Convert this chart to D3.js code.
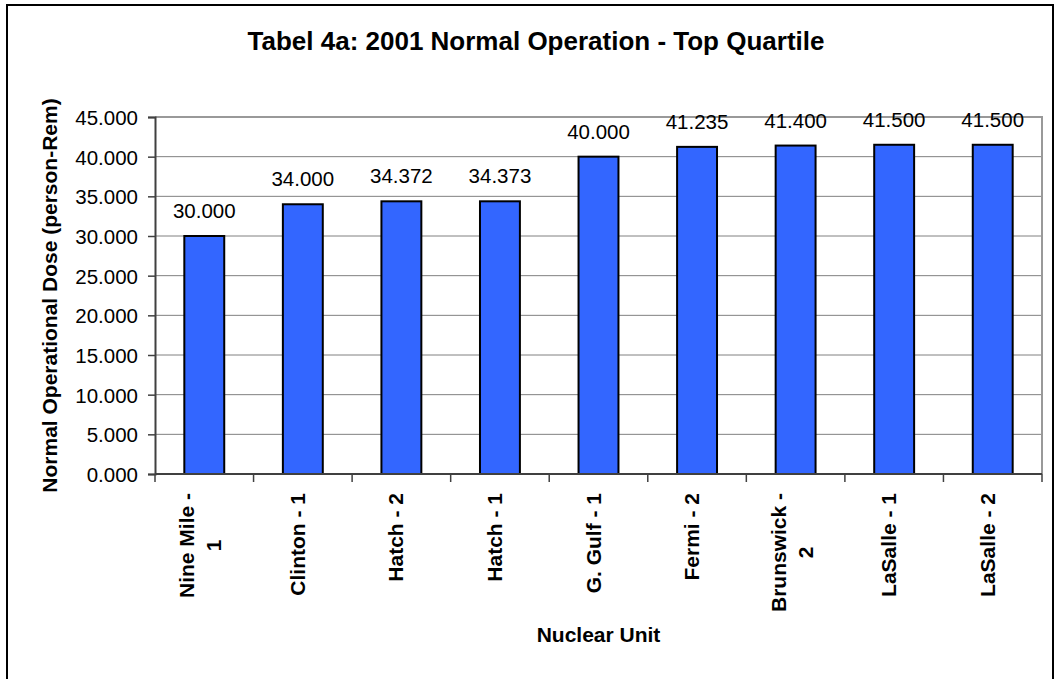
<!DOCTYPE html>
<html lang="en">
<head>
  <meta charset="UTF-8" />
  <title>Tabel 4a: 2001 Normal Operation - Top Quartile</title>
  <script src="https://d3js.org/d3.v7.min.js"></script>
  <style>
    body { margin: 0; background: #fff; }
    svg { font-family: Arial, "Liberation Sans", sans-serif; display: block; }
    .bar { fill: #3366ff; stroke: #000; stroke-width: 2px; }
    .grid line { stroke: #808080; stroke-width: 1px; }
    .axis text { font-size: 20.5px; fill: #000; }
    .xlab { font-size: 21px; font-weight: bold; }
    .value { font-size: 20.5px; }
    .title { font-size: 26px; font-weight: bold; }
    .axis-title { font-size: 21px; font-weight: bold; }
  </style>
</head>
<body>
  <svg width="1060" height="679"></svg>

  <script>
    const units = [
      ["Nine Mile -", "1"], ["Clinton - 1"], ["Hatch - 2"], ["Hatch - 1"], ["G. Gulf - 1"],
      ["Fermi - 2"], ["Brunswick -", "2"], ["LaSalle - 1"], ["LaSalle - 2"]
    ];
    const doses = [30.000, 34.000, 34.372, 34.373, 40.000, 41.235, 41.400, 41.500, 41.500];
    const yTicks = [0, 5, 10, 15, 20, 25, 30, 35, 40, 45];

    const data = units.map((u, i) => ({ key: i, lines: u, value: doses[i] }));

    const plot = { left: 155, right: 1042, top: 117, bottom: 474 };

    const svg = d3.select("svg");

    // outer chart border
    svg.append("rect")
      .attr("x", 7).attr("y", 5)
      .attr("width", 1046).attr("height", 690)
      .attr("fill", "none").attr("stroke", "#000").attr("stroke-width", 2);

    const x = d3.scaleBand()
      .domain(data.map(d => d.key))
      .range([plot.left, plot.right])
      .paddingInner(0.595)
      .paddingOuter(0.2975);

    const step = (plot.right - plot.left) / data.length;

    const y = d3.scaleLinear()
      .domain([0, 45])
      .range([plot.bottom, plot.top]);

    // gridlines
    svg.append("g")
      .attr("class", "grid")
      .selectAll("line")
      .data(yTicks.slice(1, -1))
      .join("line")
      .attr("x1", plot.left).attr("x2", plot.right)
      .attr("y1", d => y(d)).attr("y2", d => y(d));

    // plot border top/right
    svg.append("path")
      .attr("d", `M${plot.left},${y(45)}H${plot.right}V${plot.bottom}`)
      .attr("fill", "none").attr("stroke", "#999").attr("stroke-width", 2);

    // bars
    svg.append("g")
      .selectAll("rect")
      .data(data)
      .join("rect")
      .attr("class", "bar")
      .attr("x", d => x(d.key))
      .attr("width", x.bandwidth())
      .attr("y", d => y(d.value))
      .attr("height", d => y(0) - y(d.value));

    // value labels
    svg.append("g")
      .selectAll("text")
      .data(data)
      .join("text")
      .attr("class", "value")
      .attr("text-anchor", "middle")
      .attr("x", d => x(d.key) + x.bandwidth() / 2)
      .attr("y", d => y(d.value) - 18)
      .text(d => d3.format(".3f")(d.value));

    // y axis
    const yAxis = svg.append("g")
      .attr("class", "axis")
      .attr("transform", `translate(${plot.left},0)`)
      .call(d3.axisLeft(y).tickValues(yTicks).tickFormat(d3.format(".3f")).tickSize(7).tickPadding(10));
    yAxis.select(".domain").attr("stroke", "#404040").attr("stroke-width", 2);
    yAxis.selectAll(".tick line").attr("stroke", "#404040").attr("stroke-width", 1.5);
    yAxis.selectAll(".tick text").attr("dy", "0.36em");

    // x axis line with ticks between categories
    const xAxis = svg.append("g");
    xAxis.append("line")
      .attr("x1", plot.left).attr("x2", plot.right)
      .attr("y1", plot.bottom).attr("y2", plot.bottom)
      .attr("stroke", "#404040").attr("stroke-width", 2);
    xAxis.selectAll(".xt")
      .data(d3.range(data.length + 1))
      .join("line")
      .attr("class", "xt")
      .attr("x1", i => plot.left + i * step).attr("x2", i => plot.left + i * step)
      .attr("y1", plot.bottom).attr("y2", plot.bottom + 8)
      .attr("stroke", "#404040").attr("stroke-width", 1.5);

    // rotated category labels (multi-line ones centred on the longest line)
    const labels = svg.append("g")
      .selectAll("g")
      .data(data)
      .join("g")
      .attr("transform", d => `translate(${x(d.key) + x.bandwidth() / 2},493) rotate(-90)`);
    labels.each(function (d) {
      const g = d3.select(this);
      const n = d.lines.length;
      const texts = d.lines.map((t, j) => g.append("text")
        .attr("class", "xlab")
        .attr("y", n === 1 ? 2 : (j === 0 ? -10 : 17))
        .text(t));
      if (n === 1) {
        texts[0].attr("text-anchor", "end").attr("x", 0);
      } else {
        const w = d3.max(texts, t => t.node().getComputedTextLength());
        texts.forEach(t => t.attr("text-anchor", "middle").attr("x", -w / 2));
      }
    });

    // titles
    svg.append("text")
      .attr("class", "title")
      .attr("text-anchor", "middle")
      .attr("x", 536).attr("y", 50)
      .text("Tabel 4a: 2001 Normal Operation - Top Quartile");

    svg.append("text")
      .attr("class", "axis-title")
      .attr("text-anchor", "middle")
      .attr("transform", `translate(57,${(plot.top + plot.bottom) / 2}) rotate(-90)`)
      .text("Normal Operational Dose (person-Rem)");

    svg.append("text")
      .attr("class", "axis-title")
      .attr("text-anchor", "middle")
      .attr("x", (plot.left + plot.right) / 2).attr("y", 642)
      .text("Nuclear Unit");
  </script>
</body>
</html>
